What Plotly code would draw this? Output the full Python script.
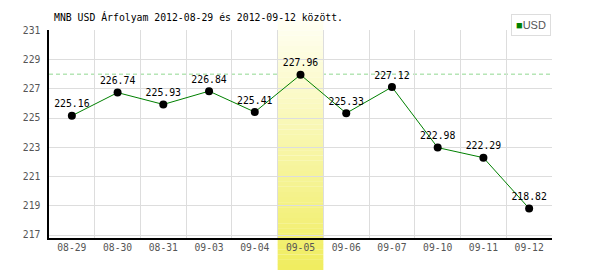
import plotly.graph_objects as go

dates = ["08-29", "08-30", "08-31", "09-03", "09-04", "09-05",
         "09-06", "09-07", "09-10", "09-11", "09-12"]
usd = [225.16, 226.74, 225.93, 226.84, 225.41, 227.96,
       225.33, 227.12, 222.98, 222.29, 218.82]
y_ticks = [217, 219, 221, 223, 225, 227, 229, 231]
highlight_idx = 5
ref_level = 228
title_text = "MNB USD Árfolyam 2012-08-29 és 2012-09-12 között."

MONO = "DejaVu Sans Mono"

fig = go.Figure()

fig.add_trace(go.Scatter(
    x=dates, y=usd, mode="lines+markers+text",
    line=dict(color="#008000", width=1),
    marker=dict(color="black", size=8),
    text=[f"{v:.2f}" for v in usd], textposition="top center",
    textfont=dict(family=MONO, size=9.8, color="black"),
    showlegend=False, hoverinfo="skip", cliponaxis=False,
))

# dashed reference line
fig.add_shape(type="line", xref="paper", yref="y", x0=0, x1=1,
              y0=ref_level, y1=ref_level,
              line=dict(color="#90d890", width=1, dash="4px,3px"),
              layer="between")

# gradient highlight band for the selected day
n = 48
top_paper = 1 + 10 / 208
bot_paper = -32 / 208
c_top = (255, 255, 242)
c_bot = (240, 237, 96)
for i in range(n):
    t = i / (n - 1)
    col = tuple(round(c_top[k] + (c_bot[k] - c_top[k]) * t) for k in range(3))
    y0 = top_paper - (top_paper - bot_paper) * i / n
    y1 = top_paper - (top_paper - bot_paper) * (i + 1) / n
    fig.add_shape(type="rect", xref="x", yref="paper",
                  x0=highlight_idx - 0.5, x1=highlight_idx + 0.5,
                  y0=y1 - 0.001, y1=y0,
                  fillcolor="rgb(%d,%d,%d)" % col, line=dict(width=0),
                  layer="between")

fig.add_annotation(xref="paper", yref="paper", x=(52 - 49) / 503,
                   y=1 + (30 - 17) / 208, xanchor="left", yanchor="middle",
                   text=title_text, showarrow=False,
                   font=dict(family=MONO, size=9.8, color="black"))

fig.add_annotation(xref="paper", yref="paper", x=(511 - 49) / 503,
                   y=1 + (30 - 14) / 208, xanchor="left", yanchor="top",
                   text="<span style='color:#008000'>■</span>USD",
                   showarrow=False, bgcolor="white",
                   bordercolor="#dddddd", borderwidth=1, borderpad=4,
                   font=dict(family="Liberation Sans Narrow, Liberation Sans", size=11, color="#555555"))

fig.update_layout(
    width=600, height=270,
    margin=dict(l=49, r=48, t=30, b=32),
    paper_bgcolor="white", plot_bgcolor="white",
    showlegend=False,
    xaxis=dict(type="category", tickson="boundaries", showgrid=True,
               gridcolor="#dddddd", gridwidth=1,
               showline=True, linecolor="black", linewidth=1.5,
               ticks="", range=[-0.5, 10.5], fixedrange=True,
               tickfont=dict(family=MONO, size=9.7, color="#555555")),
    yaxis=dict(range=[216.8, 231.02], tickvals=y_ticks, showgrid=True,
               gridcolor="#dddddd", gridwidth=1, zeroline=False,
               showline=True, linecolor="black", linewidth=1.5,
               ticks="", ticklabelstandoff=5,
               tickfont=dict(family=MONO, size=9.7, color="#555555")),
)

fig.write_html("out.html")
